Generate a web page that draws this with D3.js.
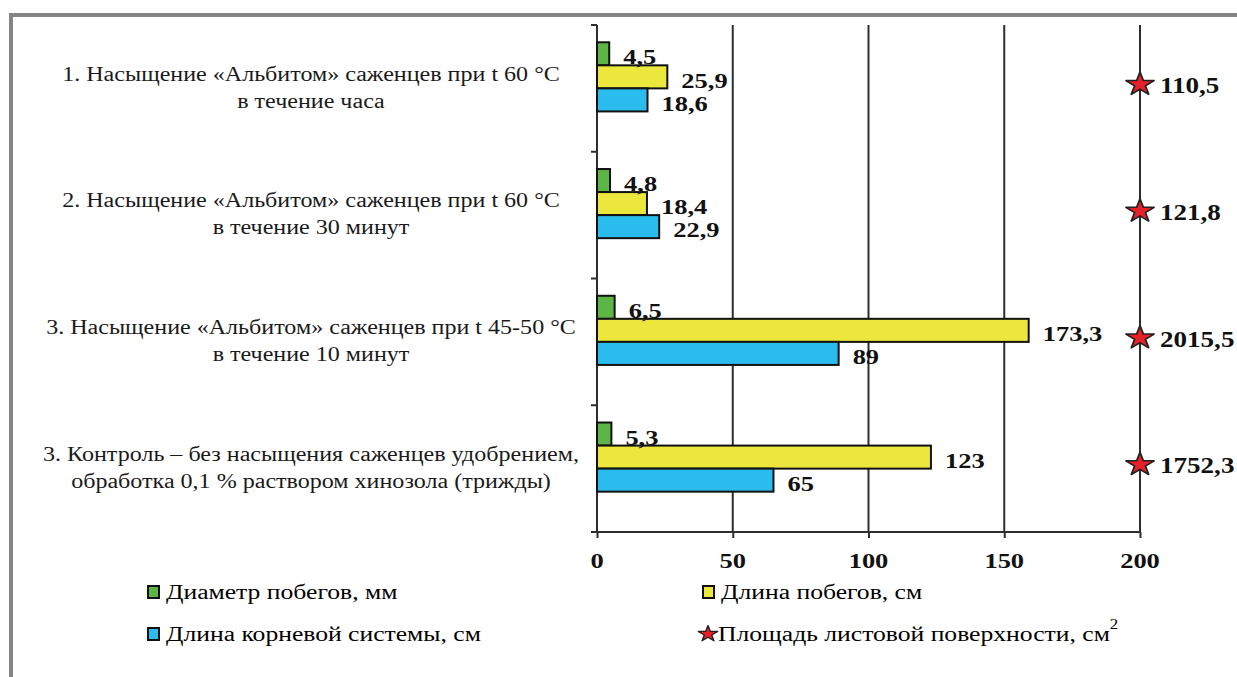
<!DOCTYPE html>
<html><head><meta charset="utf-8">
<script src="https://cdn.jsdelivr.net/npm/d3@7"></script>
<style>html,body{margin:0;padding:0;background:#fff;overflow:hidden}</style>
</head><body>
<svg id="chart" width="1237" height="677"></svg>
<script>
// ---------- data ----------
const categories = ['g1', 'g2', 'g3', 'g4'];
const catLine1 = [
  '1. Насыщение «Альбитом» саженцев при t 60 °C',
  '2. Насыщение «Альбитом» саженцев при t 60 °C',
  '3. Насыщение «Альбитом» саженцев при t 45-50 °C',
  '3. Контроль – без насыщения саженцев удобрением,'
];
const catLine2 = [
  'в течение часа',
  'в течение 30 минут',
  'в течение 10 минут',
  'обработка 0,1 % раствором хинозола (трижды)'
];
const seriesNames = [
  'Диаметр побегов, мм',
  'Длина побегов, см',
  'Длина корневой системы, см',
  'Площадь листовой поверхности, см'
];
const diameter = [4.5, 4.8, 6.5, 5.3];
const shootLength = [25.9, 18.4, 159, 123];          // bar length as drawn in the picture
const shootLabels = [25.9, 18.4, 173.3, 123];        // printed value
const rootLength = [18.6, 22.9, 89, 65];
const leafArea = [110.5, 121.8, 2015.5, 1752.3];     // drawn on the right edge of the axis
const xTicks = [0, 50, 100, 150, 200];

// ---------- setup ----------
const svg = d3.select('#chart');
const FONT = 'Liberation Serif';
const colors = ['#5cb545', '#ebe73c', '#2bbcee', '#e8202a'];
const fmt = v => String(v).replace('.', ',');

const x = d3.scaleLinear().domain([0, 200]).range([597, 1140]);
const y = d3.scaleBand().domain(categories).range([25, 532]).paddingInner(0).paddingOuter(0);
const sub = d3.scaleBand().domain(['d', 'l', 'r', 's']).range([0, y.bandwidth()]).paddingOuter(0.75).paddingInner(0);

// measure horizontal stretch of the picture
const probe = svg.append('text').attr('font-family', FONT).attr('font-size', 20).text(catLine1[0]);
const natural = probe.node().getComputedTextLength();
probe.remove();
const SX = Math.min(1.35, Math.max(1, 498 / natural));

function stext(g, tx, ty, str, opts) {
  const t = g.append('text')
    .attr('transform', `translate(${tx},${ty}) scale(${SX},1)`)
    .attr('font-family', FONT)
    .attr('font-size', opts.size)
    .attr('font-weight', opts.weight || 'normal')
    .attr('fill', opts.fill || '#111')
    .attr('text-anchor', opts.anchor || 'start')
    .attr('dominant-baseline', 'central')
    .text(str);
  return t;
}

// ---------- frame ----------
svg.append('rect').attr('x', 9).attr('y', 13).attr('width', 1237).attr('height', 4).attr('fill', '#848484');
svg.append('rect').attr('x', 9).attr('y', 13).attr('width', 4).attr('height', 677).attr('fill', '#848484');

// ---------- grid ----------
const grid = svg.append('g');
grid.selectAll('line').data(xTicks.slice(1)).join('line')
  .attr('x1', d => x(d)).attr('x2', d => x(d))
  .attr('y1', y.range()[0]).attr('y2', y.range()[1])
  .attr('stroke', '#2e2e2e').attr('stroke-width', 2);

// ---------- axes ----------
const xAxis = svg.append('g').attr('transform', `translate(0,${y.range()[1]})`)
  .call(d3.axisBottom(x).tickValues(xTicks).tickSize(6).tickFormat(''));
xAxis.select('.domain').attr('stroke', '#2e2e2e').attr('stroke-width', 2).attr('d', `M${x(0)},0H${x(200)}`);
xAxis.selectAll('.tick line').attr('stroke', '#2e2e2e').attr('stroke-width', 2);
xTicks.forEach(t => stext(svg, x(t), 560, String(t), { size: 22, weight: 'bold', anchor: 'middle' }));

const yAxis = svg.append('g').attr('transform', `translate(${x(0)},0)`)
  .call(d3.axisLeft(y).tickSize(0).tickFormat(''));
yAxis.select('.domain').attr('stroke', '#2e2e2e').attr('stroke-width', 2).attr('d', `M0,${y.range()[0]}V${y.range()[1]}`);
const bounds = [y.range()[0], ...categories.map(c => y(c) + y.bandwidth())];
svg.append('g').selectAll('line').data(bounds).join('line')
  .attr('x1', x(0) - 6).attr('x2', x(0))
  .attr('y1', d => d).attr('y2', d => d)
  .attr('stroke', '#2e2e2e').attr('stroke-width', 2);

// ---------- category labels ----------
const catG = svg.append('g');
categories.forEach((c, i) => {
  const cy = y(c) + y.bandwidth() / 2 - 1;
  stext(catG, 311, cy - 13.5, catLine1[i], { size: 20, anchor: 'middle', fill: '#1a1a1a' });
  stext(catG, 311, cy + 13.5, catLine2[i], { size: 20, anchor: 'middle', fill: '#1a1a1a' });
});

// ---------- bars ----------
const series = [
  { key: 'd', vals: diameter, labels: diameter, color: colors[0] },
  { key: 'l', vals: shootLength, labels: shootLabels, color: colors[1] },
  { key: 'r', vals: rootLength, labels: rootLength, color: colors[2] }
];
const barG = svg.append('g');
const lblG = svg.append('g');
series.forEach(s => {
  barG.selectAll(null).data(categories).join('rect')
    .attr('x', x(0))
    .attr('y', c => y(c) + sub(s.key))
    .attr('width', (c, i) => x(s.vals[i]) - x(0))
    .attr('height', sub.bandwidth())
    .attr('fill', s.color)
    .attr('stroke', '#111').attr('stroke-width', 2);
});
series.forEach(s => {
  categories.forEach((c, i) => {
    stext(lblG, x(s.vals[i]) + 14, y(c) + sub(s.key) + sub.bandwidth() / 2 + 3,
      fmt(s.labels[i]), { size: 22, weight: 'bold', fill: '#111' });
  });
});

// ---------- stars (leaf area, off-scale: pinned to the right edge) ----------
const star = d3.symbol().type(d3.symbolStar);
const starG = svg.append('g');
const starX = x(d3.max(x.domain()));
categories.forEach((c, i) => {
  const cy = y(c) + y.bandwidth() / 2 - 4;
  starG.append('path')
    .attr('d', star.size(170)())
    .attr('transform', `translate(${starX},${cy}) scale(${SX},1)`)
    .attr('fill', colors[3]).attr('stroke', '#222').attr('stroke-width', 1.5).attr('stroke-linejoin', 'round');
  stext(starG, starX + 20, cy + 1, fmt(leafArea[i]), { size: 22.5, weight: 'bold', fill: '#111' });
});

// ---------- legend ----------
const leg = svg.append('g');
const legPos = [[148, 592], [703, 592], [148, 634], [708, 634]];
seriesNames.forEach((name, i) => {
  const [lx, ly] = legPos[i];
  if (i < 3) {
    leg.append('rect').attr('x', lx).attr('y', ly - 6).attr('width', 11).attr('height', 12)
      .attr('fill', colors[i]).attr('stroke', '#111').attr('stroke-width', 2);
    stext(leg, lx + 18, ly, name, { size: 21.3, fill: '#000' });
  } else {
    leg.append('path').attr('d', star.size(80)())
      .attr('transform', `translate(${lx},${ly}) scale(${SX},1)`)
      .attr('fill', colors[3]).attr('stroke', '#222').attr('stroke-width', 1.2).attr('stroke-linejoin', 'round');
    const t = stext(leg, lx + 10, ly, name, { size: 21.3, fill: '#000' });
    t.append('tspan').attr('dy', -10).attr('font-size', 14).text('2');
  }
});
</script>
</body></html>
